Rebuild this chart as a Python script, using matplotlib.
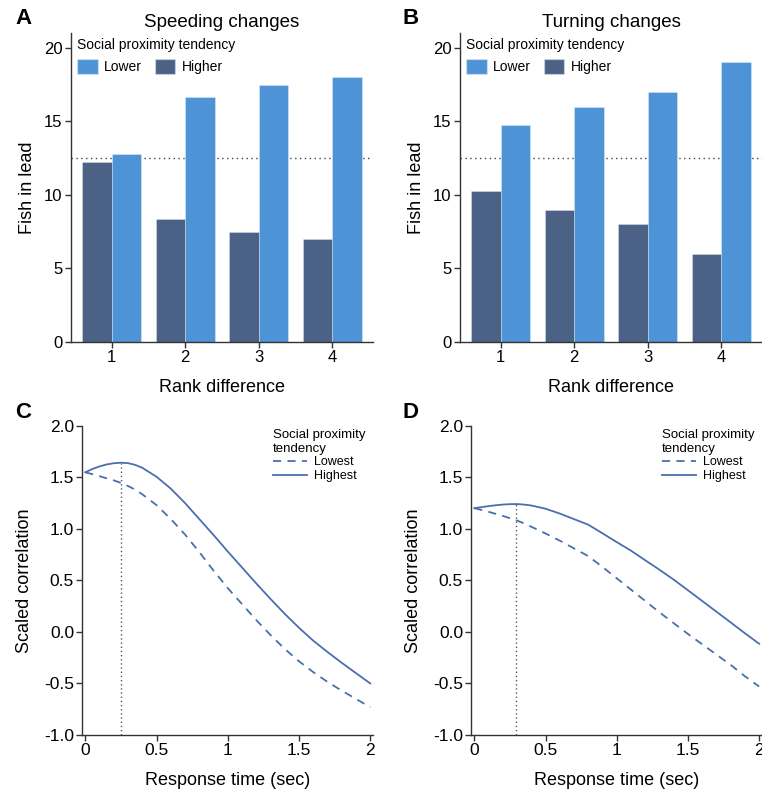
import numpy as np
import matplotlib
matplotlib.use("Agg")
import matplotlib.pyplot as plt
from matplotlib.patches import Patch
from matplotlib.lines import Line2D

plt.rcParams['font.family'] = ['Liberation Sans', 'DejaVu Sans']
plt.rcParams['axes.unicode_minus'] = False

# bar data (fish in lead)
rank_diff = [1, 2, 3, 4]
speed_higher = [12.25, 8.33, 7.5, 7.0]
speed_lower = [12.75, 16.67, 17.5, 18.0]
turn_higher = [10.25, 9.0, 8.0, 6.0]
turn_lower = [14.75, 16.0, 17.0, 19.0]
chance_level = 12.5

# curve data (scaled correlation vs response time)
resp_time = [0.0, 0.05, 0.1, 0.15, 0.2, 0.25, 0.3, 0.35, 0.4, 0.5, 0.6, 0.7, 0.8,
             0.9, 1.0, 1.1, 1.2, 1.3, 1.4, 1.5, 1.6, 1.7, 1.8, 1.9, 2.0]
speed_highest = [1.548, 1.58, 1.605, 1.624, 1.636, 1.641, 1.637, 1.62, 1.592, 1.505,
                 1.39, 1.25, 1.095, 0.94, 0.78, 0.625, 0.47, 0.32, 0.175, 0.04,
                 -0.085, -0.195, -0.30, -0.40, -0.50]
speed_lowest = [1.548, 1.53, 1.51, 1.49, 1.47, 1.445, 1.415, 1.38, 1.335, 1.23,
                1.095, 0.945, 0.775, 0.595, 0.425, 0.27, 0.115, -0.03, -0.165,
                -0.285, -0.39, -0.485, -0.57, -0.65, -0.73]
turn_highest = [1.20, 1.21, 1.22, 1.228, 1.235, 1.239, 1.24, 1.235, 1.226, 1.195,
                1.148, 1.094, 1.04, 0.956, 0.871, 0.788, 0.695, 0.603, 0.507, 0.404,
                0.30, 0.196, 0.092, -0.013, -0.115]
turn_lowest = [1.20, 1.183, 1.165, 1.145, 1.125, 1.103, 1.08, 1.052, 1.02, 0.955,
               0.885, 0.81, 0.735, 0.63, 0.52, 0.41, 0.30, 0.19, 0.085, -0.02,
               -0.12, -0.22, -0.32, -0.43, -0.53]
speed_peak = (0.25, 1.641)
turn_peak = (0.29, 1.24)

c_light = '#4f93d7'
c_dark = '#4b6185'
c_line = '#4a6fae'
c_spine = '#333333'

W, H = 762, 791
fig = plt.figure(figsize=(W / 100, H / 100), dpi=100)


def style_axes(ax, size):
    for s in ['top', 'right']:
        ax.spines[s].set_visible(False)
    for s in ['left', 'bottom']:
        ax.spines[s].set_color(c_spine)
        ax.spines[s].set_linewidth(1.0)
    ax.tick_params(direction='out', length=4, width=1.0, color=c_spine,
                   labelsize=size, pad=2)


def bar_panel(rect, higher, lower, title):
    ax = fig.add_axes(rect)
    x = np.array(rank_diff)
    ax.axhline(chance_level, color='#444444', linestyle=(0, (1, 2.5)), lw=1.0, zorder=1)
    ax.bar(x - 0.2, higher, width=0.4, color=c_dark, edgecolor=(1, 1, 1, 0.35),
           linewidth=0.6, zorder=2)
    ax.bar(x + 0.2, lower, width=0.4, color=c_light, edgecolor=(1, 1, 1, 0.35),
           linewidth=0.6, zorder=2)
    ax.set_xlim(0.45, 4.55)
    ax.set_ylim(0, 21)
    ax.set_xticks(rank_diff)
    ax.set_yticks([0, 5, 10, 15, 20])
    style_axes(ax, 12)
    ax.set_xlabel('Rank difference', fontsize=13, labelpad=10)
    ax.set_ylabel('Fish in lead', fontsize=13, labelpad=6)
    ax.text(0.5, 1.02, title, transform=ax.transAxes, ha='center',
            va='baseline', fontsize=13.5)
    handles = [Patch(facecolor=c_light, edgecolor=(1, 1, 1, 0.35)),
               Patch(facecolor=c_dark, edgecolor=(1, 1, 1, 0.35))]
    ax.legend(handles, ['Lower', 'Higher'], title='Social proximity tendency',
              ncol=2, loc='upper left', bbox_to_anchor=(0.02, 0.985),
              frameon=False, fontsize=10, title_fontsize=10, alignment='left',
              handlelength=1.5, handleheight=1.3, handletextpad=0.45,
              columnspacing=0.9, borderpad=0, borderaxespad=0)
    return ax


def curve_panel(rect, lowest, highest, peak):
    ax = fig.add_axes(rect)
    ax.plot(resp_time, lowest, color=c_line, lw=1.3, linestyle=(0, (4.5, 3.5)))
    ax.plot(resp_time, highest, color=c_line, lw=1.3)
    ax.plot([peak[0], peak[0]], [-1.0, peak[1]], color='#555555',
            linestyle=(0, (1, 2)), lw=1.0)
    ax.set_xlim(-0.02, 2.02)
    ax.set_ylim(-1.0, 2.0)
    ax.set_xticks([0, 0.5, 1, 1.5, 2])
    ax.set_xticklabels(['0', '0.5', '1', '1.5', '2'])
    ax.set_yticks([-1.0, -0.5, 0.0, 0.5, 1.0, 1.5, 2.0])
    ax.set_yticklabels(['%.1f' % v for v in [-1.0, -0.5, 0.0, 0.5, 1.0, 1.5, 2.0]])
    style_axes(ax, 12.5)
    ax.set_xlabel('Response time (sec)', fontsize=13, labelpad=10)
    ax.set_ylabel('Scaled correlation', fontsize=13, labelpad=8)
    handles = [Line2D([], [], color=c_line, lw=1.3, linestyle=(0, (4.5, 3.5))),
               Line2D([], [], color=c_line, lw=1.3)]
    ax.legend(handles, ['Lowest', 'Highest'], title='Social proximity\ntendency',
              loc='upper left', bbox_to_anchor=(0.655, 0.99), frameon=False,
              fontsize=9, title_fontsize=9.5, alignment='left',
              handlelength=2.7, handletextpad=0.6, labelspacing=0.15,
              borderpad=0, borderaxespad=0)
    return ax


bar_panel([71 / W, 1 - 342 / H, 302 / W, 309 / H], speed_higher, speed_lower,
          'Speeding changes')
bar_panel([460 / W, 1 - 342 / H, 302 / W, 309 / H], turn_higher, turn_lower,
          'Turning changes')
curve_panel([82.4 / W, 1 - 735 / H, 290.7 / W, 309.3 / H], speed_lowest,
            speed_highest, speed_peak)
curve_panel([471.45 / W, 1 - 735 / H, 290.55 / W, 309.3 / H], turn_lowest,
            turn_highest, turn_peak)

for lbl, px, py in [('A', 15, 19), ('B', 403, 19), ('C', 15, 412), ('D', 403, 412)]:
    fig.text(px / W, 1 - py / H, lbl, fontsize=16, fontweight='bold',
             ha='left', va='center')

fig.savefig('out.png', dpi=100)
